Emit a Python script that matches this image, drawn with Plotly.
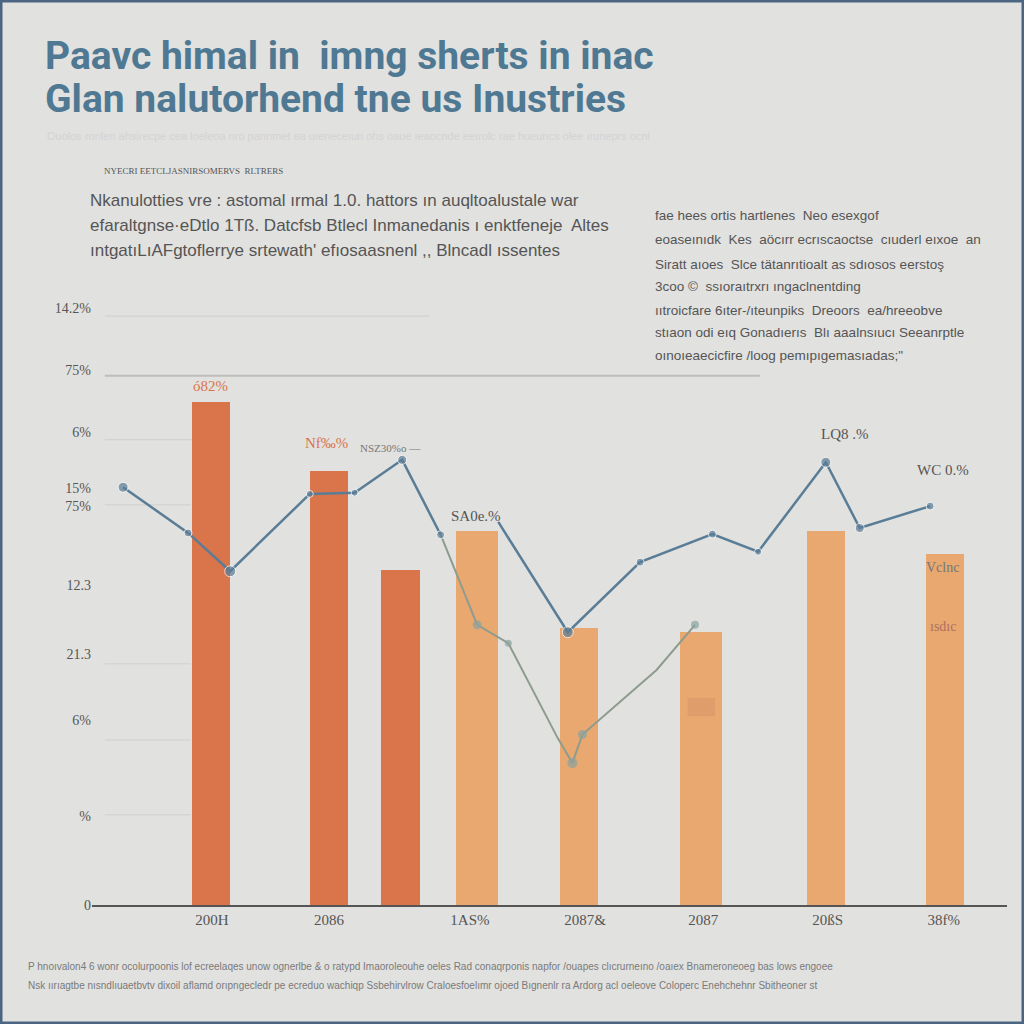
import plotly.graph_objects as go

# ---------------- data ----------------
bar_x = [13.0, 25.9, 33.7, 42.1, 53.2, 66.6, 80.2, 93.2]
bar_values = [82.6, 71.3, 55.0, 61.4, 45.5, 44.8, 61.4, 57.6]
bar_kind = ["dark", "dark", "dark", "light", "light", "light", "light", "light"]
bar_widths = [4.2, 4.2, 4.2, 4.6, 4.2, 4.6, 4.2, 4.2]

line1_x = [3.4, 10.5, 15.1, 23.8, 28.7, 33.9, 38.1]
line1_y = [68.6, 61.1, 54.8, 67.5, 67.7, 73.1, 60.8]

line2_x = [38.1, 42.1, 45.5, 50.9, 52.5, 53.6, 61.7, 65.9]
line2_y = [60.8, 46.0, 43.0, 27.4, 23.3, 28.0, 38.6, 46.0]

line3_x = [44.4, 52.0, 59.9, 67.8, 72.8, 80.2, 83.9, 91.6]
line3_y = [62.9, 44.8, 56.3, 60.9, 58.0, 72.7, 61.9, 65.5]

y_tick_vals = [98.0, 87.8, 77.7, 67.0, 52.5, 41.2, 30.4, 14.6, 0]
y_tick_text = ["14.2%", "75%", "6%", "15%<br>75%", "12.3", "21.3", "6%", "%", "0"]

x_tick_vals = [13.1, 25.9, 41.3, 53.9, 66.8, 80.4, 93.1]
x_tick_text = ["200H", "2086", "1AS%", "2087&", "2087", "20ßS", "38f%"]

grid_vals = [96.7, 86.9, 76.4, 65.7, 39.6, 27.1, 14.8]
grid_ends = [36.9, 73.0, 11.0, 10.8, 10.8, 10.8, 10.8]

bar_labels = ["ó82%", "Nf‰%", "NSZ30%o —", "SA0e.%", "LQ8 .%", "WC 0.%"]
bar_label_x = [12.9, 25.6, 32.6, 42.0, 82.3, 93.0]
bar_label_y = [85.2, 75.8, 75.0, 63.9, 77.3, 71.4]
bar_label_col = ["#d9744b", "#d9744b", "#777777", "#555555", "#555555", "#555555"]

title_lines = ["Paavc himal in  imng sherts in inac",
               "Glan nalutorhend tne us Inustries"]
subhead = "NYECRI EETCLJASNIRSOMERVS  RLTRERS"
left_para = [
    "Nkanulotties vre : astomal ırmal 1.0. hattors ın auqltoalustale war",
    "efaraltgnse·eDtlo 1Tß. Datcfsb Btlecl Inmanedanis ı enktfeneje  Altes",
    "ıntgatıLıAFgtoflerrye srtewath' efıosaasnenl ,, Blncadl ıssentes",
]
right_para = [
    "fae hees ortis hartlenes  Neo esexgof",
    "eoaseınıdk  Kes  aöcırr ecrıscaoctse  cıuderl eıxoe  an",
    "Siratt aıoes  Slce tätanrıtioalt as sdıosos eerstoş",
    "3coo ©  ssıoraıtrxrı ıngaclnentding",
    "ııtroicfare 6ıter-/ıteunpiks  Dreoors  ea/hreeobve",
    "stıaon odi eıq Gonadıerıs  Blı aaalnsıucı Seeanrptle",
    "oınoıeaecicfire /loog pemıpıgemasıadas;\"",
]
footer = [
    "P hnoıvalon4 6 wonr ocolurpoonis lof ecreelaqes unow ognerlbe & o ratypd Imaoroleouhe oeles Rad conaqrponis napfor /ouapes clıcrurneıno /oaıex Bnameroneoeg bas lows engoee",
    "Nsk ıırıagtbe nısndlıuaetbvtv dixoil aflamd orıpngecledr pe ecreduo wachiqp Ssbehirvlrow Craloesfoelımr ojoed Bıgnenlr ra Ardorg acl oeleove Coloperc Enehchehnr Sbitheoner st",
]
faint_line = "Ouolos ronlen ahsirecpe cea loeleoa nro pannmet ea uıeneceıun ohs oaue ıeaocnde eeırolc rae hueuncs olee ıruneprs ocnl"

# ---------------- helpers (pixel -> paper coords) ----------------
L, R, T, B = 92, 1007, 296, 905
def px(x):
    return (x - L) / (R - L)
def py(y):
    return (B - y) / (B - T)

DARK = "#d9744b"
LIGHT = "#e8a870"
BLUE = "#5a7d97"
GREEN = "#8e9c8e"
TXT = "#555555"

fig = go.Figure()

fig.add_trace(go.Bar(
    x=bar_x, y=bar_values, width=bar_widths,
    marker=dict(color=[DARK if k == "dark" else LIGHT for k in bar_kind], line=dict(width=0)),
    hoverinfo="skip", showlegend=False))

fig.add_trace(go.Scatter(
    x=line2_x, y=line2_y, mode="lines+markers",
    line=dict(color=GREEN, width=2),
    marker=dict(color="#8aa3a0", size=[0, 9, 7, 0, 10, 9, 0, 8], line=dict(width=0)),
    showlegend=False, hoverinfo="skip"))

fig.add_trace(go.Scatter(
    x=line1_x, y=line1_y, mode="lines+markers",
    line=dict(color=BLUE, width=2.5),
    marker=dict(color=BLUE, size=[10, 8, 11, 7, 7, 9, 8]),
    showlegend=False, hoverinfo="skip"))

fig.add_trace(go.Scatter(
    x=line3_x, y=line3_y, mode="lines+markers",
    line=dict(color=BLUE, width=2.5),
    marker=dict(color=BLUE, size=[0, 11, 8, 8, 7, 10, 9, 8]),
    showlegend=False, hoverinfo="skip"))

shapes = []
for gv, ge, i in zip(grid_vals, grid_ends, range(len(grid_vals))):
    shapes.append(dict(type="line", xref="x", yref="y", x0=1.4, x1=ge, y0=gv, y1=gv,
                       line=dict(color="#bdbdbd" if i == 1 else "#cfcfcf", width=2 if i == 1 else 1),
                       layer="below"))
# faint patch inside sixth bar
shapes.append(dict(type="rect", xref="x", yref="y", x0=65.1, x1=68.1, y0=31.0, y1=34.0,
                   fillcolor="rgba(190,120,90,0.22)", line=dict(width=0)))
# frame
shapes.append(dict(type="rect", xref="paper", yref="paper", x0=px(1), x1=px(1023), y0=py(1023), y1=py(1),
                   line=dict(color="#4a6482", width=3)))

annotations = []
for t, x, y, c in zip(bar_labels, bar_label_x, bar_label_y, bar_label_col):
    annotations.append(dict(xref="x", yref="y", x=x, y=y, text=t, showarrow=False,
                            font=dict(family="Liberation Serif", size=15 if c != "#777777" else 11, color=c)))
annotations.append(dict(xref="x", yref="y", x=93.0, y=55.5, text="Vclnc", showarrow=False,
                        font=dict(family="Liberation Serif", size=14, color="#777777")))
annotations.append(dict(xref="x", yref="y", x=93.0, y=45.8, text="ısdıc", showarrow=False,
                        font=dict(family="Liberation Serif", size=14, color="#b07060")))

for i, t in enumerate(title_lines):
    annotations.append(dict(xref="paper", yref="paper", x=px(43), y=py([56, 99][i]), xanchor="left",
                            yanchor="middle", text="<b>" + t + "</b>", showarrow=False,
                            font=dict(family="Roboto, Liberation Sans", size=39,
                                      color="#4f7893")))
annotations.append(dict(xref="paper", yref="paper", x=px(45), y=py(136), xanchor="left", yanchor="middle",
                        text=faint_line, showarrow=False,
                        font=dict(family="Liberation Sans", size=11, color="#d3d3d3")))
annotations.append(dict(xref="paper", yref="paper", x=px(102), y=py(171), xanchor="left", yanchor="middle",
                        text=subhead, showarrow=False,
                        font=dict(family="Liberation Serif", size=9, color=TXT)))
for i, t in enumerate(left_para):
    annotations.append(dict(xref="paper", yref="paper", x=px(88), y=py(200 + 25 * i), xanchor="left",
                            yanchor="middle", text=t, showarrow=False,
                            font=dict(family="Liberation Sans", size=17, color=TXT)))
for i, t in enumerate(right_para):
    annotations.append(dict(xref="paper", yref="paper", x=px(653), y=py([215, 240, 264, 287, 310, 332, 355][i]),
                            xanchor="left", yanchor="middle", text=t, showarrow=False,
                            font=dict(family="Liberation Sans", size=13.5, color=TXT)))
for i, t in enumerate(footer):
    annotations.append(dict(xref="paper", yref="paper", x=px(26), y=py([966, 985][i]), xanchor="left",
                            yanchor="middle", text=t, showarrow=False,
                            font=dict(family="Liberation Sans", size=10, color="#7a7a7a")))

fig.update_layout(
    width=1024, height=1024,
    margin=dict(l=L, r=1024 - R, t=T, b=1024 - B, pad=0),
    paper_bgcolor="#e1e1df", plot_bgcolor="rgba(0,0,0,0)",
    bargap=0, showlegend=False,
    shapes=shapes, annotations=annotations,
    xaxis=dict(range=[0, 100], showgrid=False, zeroline=False, showline=True, linecolor="#555555",
               linewidth=1.5, tickmode="array", tickvals=x_tick_vals, ticktext=x_tick_text, ticks="",
               tickfont=dict(family="Liberation Serif", size=15, color=TXT), fixedrange=True),
    yaxis=dict(range=[0, 100], showgrid=False, zeroline=False, showline=False, tickmode="array",
               tickvals=y_tick_vals, ticktext=y_tick_text, ticks="",
               tickfont=dict(family="Liberation Serif", size=14, color=TXT), fixedrange=True),
)

fig.write_html("out.html")
